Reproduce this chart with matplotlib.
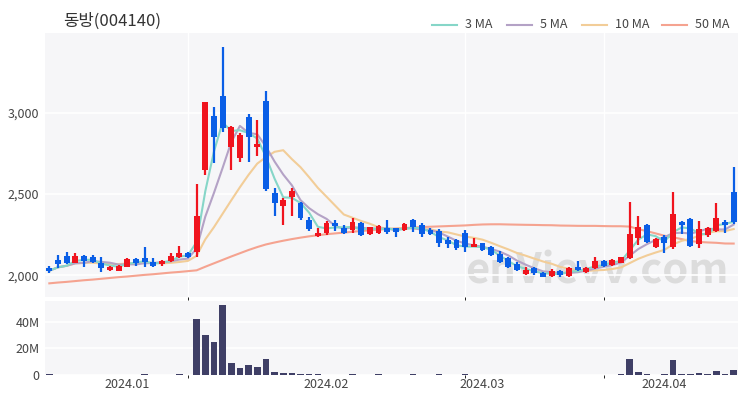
import numpy as np
import pandas as pd
import matplotlib
matplotlib.use('Agg')
import matplotlib.pyplot as plt
from matplotlib.lines import Line2D
from matplotlib.ticker import FuncFormatter

plt.rcParams['font.family'] = ['Noto Sans CJK KR', 'DejaVu Sans']

# Korean trading days shown in the chart
holidays = ['2023-12-25', '2023-12-29', '2024-01-01', '2024-02-09',
            '2024-02-12', '2024-03-01', '2024-04-10']
dates = pd.bdate_range('2023-12-14', '2024-04-12')
dates = dates[~dates.isin(pd.to_datetime(holidays))]

opens = [2043, 2094, 2119, 2078, 2119, 2115, 2078, 2033, 2029, 2053,
         2098, 2109, 2084, 2070, 2090, 2115, 2139, 2146, 2648, 2980,
         3103, 2791, 2720, 2972, 2787, 3074, 2504, 2426, 2484, 2443,
         2340, 2242, 2262, 2324, 2289, 2279, 2324, 2254, 2262, 2289,
         2289, 2279, 2340, 2310, 2279, 2275, 2217, 2217, 2258, 2176,
         2197, 2172, 2131, 2105, 2070, 2006, 2043, 2016, 1996, 2027,
         1996, 2053, 2023, 2043, 2090, 2064, 2078, 2105, 2228, 2310,
         2176, 2238, 2176, 2330, 2344, 2193, 2248, 2275, 2330, 2515]
highs = [2057, 2125, 2141, 2139, 2125, 2125, 2115, 2059, 2064, 2104,
         2104, 2172, 2104, 2094, 2135, 2180, 2146, 2562, 3068, 3037,
         3402, 2918, 2873, 2992, 2955, 3136, 2535, 2473, 2535, 2453,
         2361, 2289, 2336, 2340, 2310, 2351, 2330, 2299, 2310, 2340,
         2289, 2324, 2344, 2324, 2289, 2283, 2234, 2221, 2279, 2228,
         2201, 2180, 2152, 2115, 2084, 2053, 2049, 2023, 2037, 2033,
         2053, 2090, 2053, 2111, 2094, 2098, 2115, 2453, 2365, 2314,
         2228, 2248, 2515, 2334, 2351, 2336, 2299, 2443, 2340, 2664]
lows = [2016, 2047, 2070, 2074, 2053, 2074, 2023, 2027, 2025, 2049,
        2057, 2053, 2053, 2057, 2084, 2105, 2105, 2115, 2617, 2689,
        2884, 2648, 2699, 2699, 2734, 2521, 2365, 2310, 2365, 2340,
        2275, 2238, 2248, 2275, 2252, 2258, 2242, 2248, 2254, 2254,
        2238, 2275, 2269, 2238, 2248, 2172, 2166, 2156, 2146, 2172,
        2152, 2119, 2078, 2043, 2029, 2002, 2000, 1988, 1988, 1992,
        1988, 2029, 2016, 2037, 2049, 2057, 2074, 2098, 2187, 2201,
        2166, 2139, 2160, 2254, 2176, 2166, 2234, 2269, 2262, 2316]
closes = [2029, 2070, 2078, 2119, 2088, 2082, 2047, 2053, 2059, 2100,
          2078, 2084, 2057, 2090, 2119, 2135, 2115, 2365, 3068, 2849,
          2904, 2910, 2863, 2853, 2808, 2529, 2447, 2463, 2521, 2351,
          2283, 2262, 2320, 2303, 2262, 2330, 2248, 2295, 2303, 2269,
          2269, 2316, 2295, 2254, 2254, 2197, 2193, 2166, 2172, 2193,
          2156, 2125, 2084, 2053, 2033, 2033, 2012, 1992, 2029, 2000,
          2043, 2033, 2043, 2090, 2057, 2094, 2111, 2254, 2295, 2207,
          2221, 2197, 2377, 2310, 2180, 2283, 2289, 2350, 2310, 2330]
# volume in millions of shares
volumes = [0.4, 0.3, 0.3, 0.3, 0.3, 0.25, 0.25, 0.25, 0.2, 0.2,
           0.2, 0.6, 0.2, 0.2, 0.3, 0.5, 0.3, 42.0, 30.0, 24.5,
           52.8, 9.0, 5.0, 7.5, 5.8, 12.0, 2.5, 1.3, 1.8, 0.8,
           0.6, 0.4, 0.3, 0.3, 0.3, 0.4, 0.3, 0.3, 0.4, 0.3,
           0.3, 0.3, 0.4, 0.3, 0.3, 0.5, 0.3, 0.3, 0.4, 0.3,
           0.3, 0.3, 0.3, 0.3, 0.3, 0.3, 0.3, 0.3, 0.3, 0.3,
           0.3, 0.3, 0.3, 0.3, 0.3, 0.3, 0.4, 12.0, 2.5, 0.5,
           0.3, 0.5, 11.3, 1.0, 1.0, 1.5, 0.5, 3.0, 0.8, 4.0]
# 50 MA before a full window of visible closes exists
ma50_head = [1951, 1956, 1960, 1965, 1970, 1974, 1979, 1984, 1989, 1993,
             1998, 2003, 2007, 2012, 2017, 2021, 2026, 2031, 2053, 2074,
             2095, 2116, 2136, 2156, 2174, 2190, 2202, 2213, 2223, 2232,
             2240, 2247, 2253, 2258, 2263, 2268, 2273, 2277, 2281, 2285,
             2288, 2291, 2294, 2297, 2299, 2301, 2303, 2305, 2307]

df = pd.DataFrame({'open': opens, 'high': highs, 'low': lows,
                   'close': closes, 'volume': volumes}, index=dates)
close = df['close']
ma3 = close.rolling(3, min_periods=1).mean().values
ma5 = close.rolling(5, min_periods=1).mean().values
ma10 = close.rolling(10, min_periods=1).mean().values
ma50 = close.rolling(50).mean().values
ma50[:len(ma50_head)] = ma50_head

x = np.arange(len(df))
up = df['close'].values >= df['open'].values
c_up, c_dn = '#f0141e', '#0a5ee6'
colors = np.where(up, c_up, c_dn)

ma_colors = {'3 MA': '#86d6c8', '5 MA': '#b4a2c6', '10 MA': '#f2cd98', '50 MA': '#f5a390'}
bg = '#f6f6f8'
txt = '#444444'

fig = plt.figure(figsize=(7.5, 4), dpi=100)
ax = fig.add_axes([0.06, 0.2575, 0.924, 0.66])
axv = fig.add_axes([0.06, 0.0625, 0.924, 0.1855], sharex=ax)

for a in (ax, axv):
    a.set_facecolor(bg)
    for s in a.spines.values():
        s.set_visible(False)
    a.tick_params(length=0, labelsize=9, colors=txt)
    a.set_axisbelow(True)

# watermark
ax.text(0.796, 0.322, 'enVievv.com', transform=fig.transFigure, fontsize=30,
        fontweight='bold', color='#dcdcdc', ha='center', va='center', zorder=0.5)

# moving averages
ax.plot(x, ma50, color=ma_colors['50 MA'], lw=1.5, zorder=1)
ax.plot(x, ma10, color=ma_colors['10 MA'], lw=1.5, zorder=1)
ax.plot(x, ma5, color=ma_colors['5 MA'], lw=1.5, zorder=1)
ax.plot(x, ma3, color=ma_colors['3 MA'], lw=1.5, zorder=1)

# candles
body_lo = np.minimum(df['open'].values, df['close'].values)
body_h = np.maximum(np.abs(df['close'].values - df['open'].values), 8)
ax.vlines(x, df['low'].values, df['high'].values, colors=colors, lw=1.6, zorder=2)
ax.bar(x, body_h, bottom=body_lo, width=0.68, color=colors, zorder=3)

ax.set_xlim(-0.5, len(df) - 0.5)
ax.set_ylim(1867, 3490)
ax.set_yticks([2000, 2500, 3000])
ax.yaxis.set_major_formatter(FuncFormatter(lambda v, p: f'{v:,.0f}'))
ax.tick_params(axis='y', pad=4)
ax.tick_params(axis='x', labelbottom=False)
ax.grid(axis='y', color='white', lw=1.2)
ax.set_xticks(range(16, len(df), 16), minor=True)
ax.grid(axis='x', which='minor', color='white', lw=1.0)

# volume
axv.bar(x, df['volume'].values, width=0.76, color='#3f3f66', zorder=2)
axv.set_ylim(0, 55.7)
axv.set_yticks([0, 20, 40])
axv.yaxis.set_major_formatter(FuncFormatter(lambda v, p: '0' if v == 0 else f'{v:.0f}M'))
axv.tick_params(axis='y', pad=4)
axv.grid(axis='y', color='white', lw=1.2)

months = pd.to_datetime(['2024-01-01', '2024-02-01', '2024-03-01', '2024-04-01'])
tick_pos = np.searchsorted(dates, months, side='right') - 1
axv.set_xticks(tick_pos)
axv.set_xticklabels([m.strftime('%Y.%m') for m in months])
axv.tick_params(axis='x', pad=2)

# title and legend
fig.text(63 / 750, 1 - 21 / 400, '동방(004140)', fontsize=12, color='#333333',
         ha='left', va='center')
leg_y = 1 - 25 / 400
leg = [('3 MA', 432), ('5 MA', 507), ('10 MA', 582), ('50 MA', 662)]
for name, px in leg:
    fig.add_artist(Line2D([px / 750, (px + 25) / 750], [leg_y, leg_y],
                          color=ma_colors[name], lw=1.5))
    fig.text((px + 33) / 750, leg_y, name, fontsize=9, color=txt,
             ha='left', va='center')

fig.savefig('out.png', dpi=100)
